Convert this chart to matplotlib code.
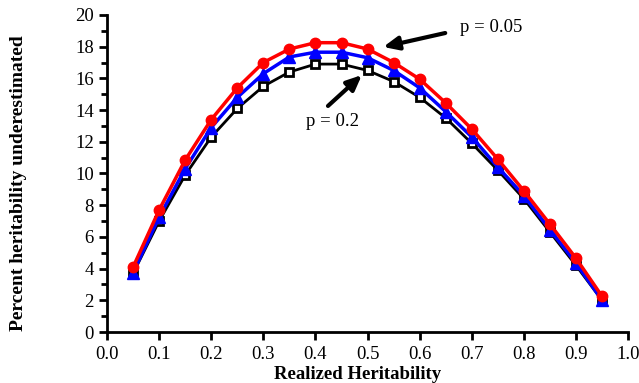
import matplotlib
matplotlib.use('Agg')
import matplotlib.pyplot as plt
from matplotlib.ticker import MultipleLocator

# Realized heritability values
h2 = [0.05, 0.10, 0.15, 0.20, 0.25, 0.30, 0.35, 0.40, 0.45, 0.50,
      0.55, 0.60, 0.65, 0.70, 0.75, 0.80, 0.85, 0.90, 0.95]

# Percent heritability underestimated for each series
p_black = [3.7, 7.0, 9.9, 12.3, 14.1, 15.5, 16.4, 16.9, 16.9, 16.5,
           15.8, 14.8, 13.5, 11.9, 10.2, 8.4, 6.3, 4.2, 2.0]
p_blue = [3.75, 7.25, 10.3, 12.9, 14.8, 16.3, 17.35, 17.65, 17.65, 17.3,
          16.5, 15.4, 13.9, 12.3, 10.4, 8.6, 6.45, 4.35, 2.0]
p_red = [4.1, 7.7, 10.85, 13.4, 15.4, 17.0, 17.85, 18.25, 18.25, 17.85,
         17.0, 15.95, 14.45, 12.8, 10.9, 8.9, 6.8, 4.65, 2.25]

plt.rcParams['font.family'] = ['Liberation Serif', 'DejaVu Serif']

fig = plt.figure(figsize=(6.39, 3.83), dpi=100)
ax = fig.add_axes([0.1675, 0.133, 0.8155, 0.828])

ax.plot(h2, p_black, color='black', lw=2, marker='s', ms=5.5, mfc='white',
        mec='black', mew=2, zorder=3)
ax.plot(h2, p_blue, color='#0000ff', lw=2.5, marker='^', ms=8.5, mfc='#0000ff',
        mec='#0000ff', zorder=4)
ax.plot(h2, p_red, color='#ff0000', lw=2.5, marker='o', ms=7.5, mfc='#ff0000',
        mec='#ff0000', zorder=5)

ax.set_xlim(0, 1.0)
ax.set_ylim(0, 20)
ax.xaxis.set_major_locator(MultipleLocator(0.1))
ax.yaxis.set_major_locator(MultipleLocator(2))
ax.yaxis.set_minor_locator(MultipleLocator(1))
ax.xaxis.set_major_formatter(plt.FuncFormatter(lambda v, _: '%.1f' % v))

for s in ['top', 'right']:
    ax.spines[s].set_visible(False)
for s in ['left', 'bottom']:
    ax.spines[s].set_linewidth(2)
    ax.spines[s].set_clip_on(False)

ax.tick_params(which='major', direction='out', length=6, width=2, labelsize=13.5)
ax.tick_params(which='minor', direction='out', length=4, width=2)
ax.tick_params(axis='x', pad=4)

ax.set_xlabel('Realized Heritability', fontsize=13.5, fontweight='bold')
ax.xaxis.set_label_coords(0.48, -0.108)
ax.set_ylabel('Percent heritability underestimated', fontsize=14,
              fontweight='bold')
ax.yaxis.set_label_coords(-0.154, 0.47)

# annotations
arrow = dict(arrowstyle='-|>,head_length=0.9,head_width=0.4',
             color='black', lw=3, shrinkA=0, shrinkB=0)
ax.annotate('', xy=(0.530, 17.98), xytext=(0.649, 18.86), arrowprops=arrow)
ax.text(0.678, 19.18, 'p = 0.05', fontsize=13.5, va='center', ha='left')
ax.annotate('', xy=(0.489, 16.21), xytext=(0.424, 14.26), arrowprops=arrow)
ax.text(0.382, 13.25, 'p = 0.2', fontsize=13.5, va='center', ha='left')

fig.savefig('out.png', dpi=100)
